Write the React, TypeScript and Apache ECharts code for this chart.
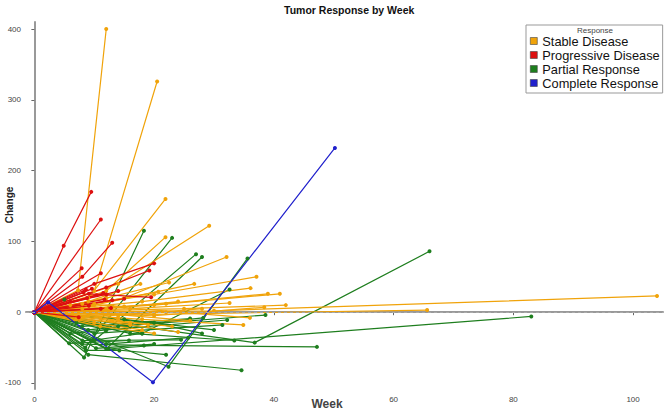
import React, { useEffect, useRef } from "react";
import * as echarts from "echarts";

type Pt = [number, number];

const categories = ["Stable Disease", "Progressive Disease", "Partial Response", "Complete Response"];
const categoryColors = ["#F0A30A", "#DD1010", "#1E7E1E", "#2020CC"];

// Each patient: list of [week, change]
const stableDisease: Pt[][] = [
  [[0, 0], [7.3, 31], [12, 400]],
  [[0, 0], [10, 30], [20.5, 326]],
  [[0, 0], [9, 20], [21.9, 160]],
  [[0, 0], [14, 40], [29.2, 122]],
  [[0, 0], [12, 30], [21.9, 106]],
  [[0, 0], [15, 20], [32.1, 78]],
  [[0, 0], [20, 25], [37.1, 50]],
  [[0, 0], [10, 10], [26.7, 40]],
  [[0, 0], [18, 15], [36.1, 34]],
  [[0, 0], [22, 12], [39, 26]],
  [[0, 0], [20, 10], [41, 26]],
  [[0, 0], [25, 5], [42, 10]],
  [[0, 0], [20, -5], [38.4, 7]],
  [[0, 0], [16, 5], [32.6, 13]],
  [[0, 0], [18, -10], [34.9, -18]],
  [[0, 0], [12, 5], [24, 15]],
  [[0, 0], [30, 2], [104, 23]],
  [[0, 0], [20, -3], [65.6, 3]],
  [[0, 0], [9, 15], [17.7, 40]],
  [[0, 0], [10, 12], [20.7, 29]],
  [[0, 0], [12, 20], [22.5, 42]],
  [[0, 0], [8, 5], [14, -10]],
  [[0, 0], [10, -15], [18, -25]],
  [[0, 0], [6, 10], [12, 20]],
  [[0, 0], [11, -20], [20, -30]],
  [[0, 0], [14, -5], [28, 5]],
  [[0, 0], [9, -5], [22, 0]],
  [[0, 0], [13, 8], [36, -8]],
  [[0, 0], [7, -10], [16, -15]],
  [[0, 0], [11, -8], [19, -18]],
  [[0, 0], [13, -12], [23, -20]],
  [[0, 0], [8, 12], [15, 8]],
  [[0, 0], [12, -2], [26, -12]],
  [[0, 0], [16, -18], [24, -28]],
];

const progressiveDisease: Pt[][] = [
  [[0, 0], [4.9, 94], [9.5, 170]],
  [[0, 0], [11.1, 131]],
  [[0, 0], [8, 50], [13, 98]],
  [[0, 0], [7.9, 62]],
  [[0, 0], [11.1, 55]],
  [[0, 0], [10, 40], [20, 69]],
  [[0, 0], [12, 35], [19.2, 59]],
  [[0, 0], [8.6, 32]],
  [[0, 0], [9.1, 26], [19.5, 21]],
  [[0, 0], [15, 19]],
  [[0, 0], [13, 17]],
  [[0, 0], [7.4, -7]],
  [[0, 0], [11.5, 27]],
  [[0, 0], [11.7, 18]],
  [[0, 0], [9.1, 9]],
  [[0, 0], [11.1, 5]],
  [[0, 0], [12.8, 6]],
  [[0, 0], [6, 15], [12, 25]],
  [[0, 0], [8.2, 28]],
  [[0, 0], [9.6, 33]],
  [[0, 0], [10.4, 24]],
  [[0, 0], [8.8, 20]],
  [[0, 0], [14, 30]],
];

const partialResponse: Pt[][] = [
  [[0, 0], [36.8, -43], [66, 86]],
  [[0, 0], [12.3, -52], [83, -6]],
  [[0, 0], [8, -45], [18.3, -47], [47.2, -49]],
  [[0, 0], [9, -60], [34.6, -82]],
  [[0, 0], [14, -20], [38.6, -4]],
  [[0, 0], [18, -30], [32.6, 32]],
  [[0, 0], [12, -25], [32.2, -11]],
  [[0, 0], [10, -30], [31.4, -18]],
  [[0, 0], [16, -30], [33.4, -40]],
  [[0, 0], [8, -20], [26, -9]],
  [[0, 0], [9, -25], [28.2, -8]],
  [[0, 0], [8, -40], [24.5, -39]],
  [[0, 0], [12, -45], [25.7, -36]],
  [[0, 0], [8.5, -50], [23, 105]],
  [[0, 0], [10, -40], [27, 82]],
  [[0, 0], [12, -52], [28, 78]],
  [[0, 0], [8.3, -64], [18.3, 115]],
  [[0, 0], [22.4, -77], [35.6, 76]],
  [[0, 0], [5, 18]],
  [[0, 0], [5.8, -44], [15.8, -40]],
  [[0, 0], [8.6, -54], [14.2, -54]],
  [[0, 0], [10.3, -51], [20, -45]],
  [[0, 0], [12.2, -52], [22, -60]],
  [[0, 0], [9.5, -40], [18, -30]],
  [[0, 0], [7, -15], [16, -20]],
  [[0, 0], [6, -30], [12, -25]],
  [[0, 0], [15, -10], [30, -25]],
  [[0, 0], [20, -15], [28, -30]],
];

const completeResponse: Pt[][] = [
  [[0, 0], [2.3, 14], [19.8, -99], [50.2, 232]],
];

const xTickValues = [0, 20, 40, 60, 80, 100];
const yTickValues = [-100, 0, 100, 200, 300, 400];

export default function App() {
  const ref = useRef<HTMLDivElement>(null);
  useEffect(() => {
    const chart = echarts.init(ref.current!, null, { renderer: "svg" });
    const font = "Liberation Sans, Arial, sans-serif";
    const groups: [Pt[][], number][] = [
      [partialResponse, 2],
      [stableDisease, 0],
      [progressiveDisease, 1],
      [completeResponse, 3],
    ];
    const series: any[] = [];
    groups.forEach(([paths, ci]) => {
      paths.forEach((p) => {
        series.push({
          type: "line",
          name: categories[ci],
          data: p,
          symbol: "circle",
          symbolSize: 4,
          showSymbol: true,
          lineStyle: { width: 1.2, color: categoryColors[ci] },
          itemStyle: { color: categoryColors[ci] },
          emphasis: { disabled: true },
        });
      });
    });
    series.unshift({
      type: "line",
      name: "zero",
      data: [],
      markLine: {
        silent: true,
        symbol: "none",
        label: { show: false },
        lineStyle: { type: [3, 3], color: "#aaaaaa", width: 1 },
        data: [{ yAxis: 0 }],
      },
    });
    chart.setOption({
      animation: false,
      grid: { left: 26, right: 4, top: 22, bottom: 23 },
      xAxis: {
        type: "value",
        min: -1.4,
        max: 105,
        axisLine: { show: true, lineStyle: { color: "#999", width: 2 } },
        axisTick: { show: true, length: 3, lineStyle: { color: "#666" }, customValues: xTickValues },
        axisLabel: { fontSize: 8, color: "#444", fontFamily: font, margin: 6, customValues: xTickValues },
        splitLine: { show: false },
      },
      yAxis: {
        type: "value",
        min: -108.5,
        max: 410,
        axisLine: { show: true, lineStyle: { color: "#999", width: 2 } },
        axisTick: { show: true, length: 3, lineStyle: { color: "#666" }, customValues: yTickValues },
        axisLabel: { fontSize: 8, color: "#444", fontFamily: font, margin: 5, customValues: yTickValues },
        splitLine: { show: false },
      },
      legend: {
        data: categories.map((n) => ({ name: n, icon: "rect" })),
        orient: "vertical",
        left: 526,
        top: 25,
        padding: [9, 3, 3, 4],
        itemWidth: 7,
        itemHeight: 7,
        itemGap: 0,
        borderColor: "#999",
        borderWidth: 1,
        selectedMode: false,
        itemStyle: { borderColor: "#444", borderWidth: 0.6 },
        textStyle: { fontSize: 12.8, lineHeight: 14, color: "#111", fontFamily: font },
      },
      graphic: [
        {
          type: "text",
          left: 344 - 60,
          top: 4,
          style: { text: "Tumor Response by Week", font: `bold 10.5px ${font}`, fill: "#111" },
        },
        {
          type: "text",
          x: 595,
          y: 26,
          style: { text: "Response", font: `8px ${font}`, fill: "#444", textAlign: "center" },
        },
        {
          type: "text",
          x: 327,
          y: 398,
          style: { text: "Week", font: `bold 12px ${font}`, fill: "#444", textAlign: "center" },
        },
        {
          type: "text",
          x: 4,
          y: 205,
          rotation: Math.PI / 2,
          style: { text: "Change", font: `bold 10px ${font}`, fill: "#222", textAlign: "center" },
        },
      ],
      series,
    });
    return () => chart.dispose();
  }, []);
  return <div ref={ref} style={{ position: "absolute", left: 0, top: 0, width: 667, height: 412 }} />;
}
